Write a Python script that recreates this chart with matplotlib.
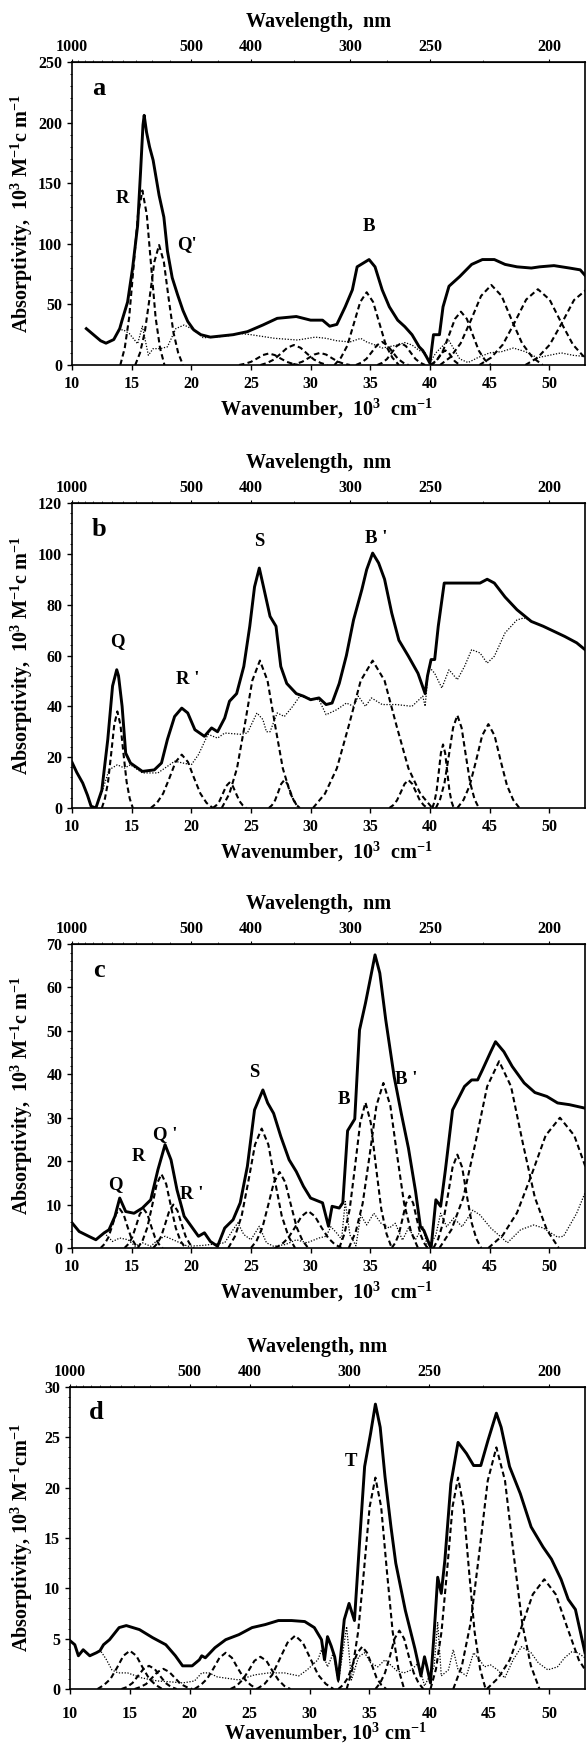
import numpy as np
import matplotlib.pyplot as plt
from matplotlib.ticker import MultipleLocator, AutoMinorLocator, FixedLocator

plt.rcParams['font.family'] = 'Liberation Serif'
plt.rcParams['font.weight'] = 'bold'
plt.rcParams['mathtext.fontset'] = 'custom'
plt.rcParams['mathtext.rm'] = 'Liberation Serif:bold'
plt.rcParams['mathtext.it'] = 'Liberation Serif:italic:bold'
plt.rcParams['mathtext.bf'] = 'Liberation Serif:bold'

# ---------------- panel a ----------------
a_x = [11.2, 11.8, 12.4, 12.85, 13.5, 14.0, 14.2, 14.66, 15.08, 15.5, 15.75, 15.95, 16.05,
       16.25, 16.5, 16.8, 17.3, 17.7, 18.0, 18.4, 18.85, 19.3, 19.7, 20.2, 20.8, 21.6, 23.5,
       24.7, 26.0, 27.2, 28.8, 30.0, 31.0, 31.6, 32.2, 32.9, 33.5, 33.9, 34.4, 34.9, 35.4,
       36.0, 36.6, 37.3, 37.9, 38.5, 39.1, 39.4, 39.7, 40.0, 40.3, 40.8, 41.1, 41.6, 42.5,
       43.5, 44.4, 45.4, 46.3, 47.3, 48.5, 49.2, 50.4, 51.7, 52.6, 53.0]
a_y = [30, 25, 20, 18, 21, 30, 37, 52, 80, 115, 160, 198, 206,
       192, 180, 169, 140, 122, 94, 72, 58, 45, 36, 29, 25, 23, 25,
       27.5, 33, 38.5, 40, 37, 37, 32, 33.5, 48, 62, 81, 84, 87, 81,
       62, 48, 37, 31.6, 25, 15, 12, 7, 1.5, 25, 25, 48, 65, 73,
       83, 87, 87, 83, 81, 80, 81, 82, 80, 78.5, 74]
a_dot_x = [13.9, 14.3, 14.8, 15.5, 15.9, 16.4, 16.8, 17.4, 18.0, 18.7, 19.4, 20.2, 21.0,
           22.0, 23.0, 24.1, 25.0, 27.0, 28.9, 30.4, 31.3, 32.2, 33.3, 34.2, 34.7, 35.4,
           36.0, 37.3, 37.9, 38.5, 39.1, 39.6, 40.0, 40.5, 41.3, 41.6, 42.5, 43.2, 44.0,
           45.0, 46.0, 47.0, 48.0, 49.0, 50.0, 51.0, 52.0, 53.0]
a_dot_y = [29, 29, 26, 17.5, 32, 8, 13.5, 13.5, 15, 30, 33, 29, 22.5,
           23, 24, 26, 25, 22, 20.6, 23, 22, 20, 19, 22, 19, 16.5,
           14, 16.5, 18.5, 16.5, 12, 10, 2, 10, 18, 20, 5, 2, 6,
           10, 11, 14, 11, 6, 8, 10, 8, 7]
a_bands = [
    ([14.05, 14.42, 14.79, 15.16, 15.53, 15.9, 16.27, 16.64, 17.01, 17.38, 17.75],
     [0, 14, 39, 81, 124, 144, 124, 81, 39, 14, 0]),
    ([15.3, 15.7, 16.1, 16.5, 16.9, 17.3, 17.7, 18.1, 18.5, 18.9, 19.3],
     [0, 10, 27, 55, 85, 99, 85, 55, 27, 10, 0]),
    ([24.0, 24.5, 25.0, 25.5, 26.0, 26.5, 27.0, 27.5, 28.0, 28.5, 29.0],
     [0, 1.0, 2.6, 5.3, 8.2, 9.5, 8.2, 5.3, 2.6, 1.0, 0]),
    ([25.8, 26.36, 26.92, 27.48, 28.04, 28.6, 29.16, 29.72, 30.28, 30.84, 31.4],
     [0, 1.7, 4.5, 9.2, 14.2, 16.5, 14.2, 9.2, 4.5, 1.7, 0]),
    ([28.3, 28.8, 29.3, 29.8, 30.3, 30.8, 31.3, 31.8, 32.3, 32.8, 33.3],
     [0, 1, 2.7, 5.6, 8.6, 10, 8.6, 5.6, 2.7, 1, 0]),
    ([32.0, 32.54, 33.08, 33.62, 34.16, 34.7, 35.24, 35.78, 36.32, 36.86, 37.4],
     [0, 6, 16, 34, 52, 60, 52, 34, 16, 6, 0]),
    ([33.8, 34.24, 34.68, 35.12, 35.56, 36.0, 36.44, 36.88, 37.32, 37.76, 38.2],
     [0, 1.9, 5.1, 10.6, 16.3, 19, 16.3, 10.6, 5.1, 1.9, 0]),
    ([35.6, 36.0, 36.4, 36.8, 37.2, 37.6, 38.0, 38.4, 38.8, 39.2, 39.6],
     [0, 1.8, 4.9, 10.1, 15.5, 18, 15.5, 10.1, 4.9, 1.8, 0]),
    ([40.0, 40.26, 40.52, 40.78, 41.04, 41.3, 41.56, 41.82, 42.08, 42.34, 42.6],
     [0, 1.2, 3.2, 6.7, 10.3, 12, 10.3, 6.7, 3.2, 1.2, 0]),
    ([40.1, 40.6, 41.1, 41.6, 42.1, 42.6, 43.1, 43.6, 44.1, 44.6, 45.1],
     [0, 4.3, 11.8, 24.6, 38, 44, 38, 24.6, 11.8, 4.3, 0]),
    ([40.85, 41.71, 42.57, 43.43, 44.29, 45.15, 46.01, 46.87, 47.73, 48.59, 49.45],
     [0, 6.4, 17.8, 36.8, 57, 66, 57, 36.8, 17.8, 6.4, 0]),
    ([44.15, 45.13, 46.11, 47.09, 48.07, 49.05, 50.03, 51.01, 51.99, 52.97, 53.95],
     [0, 6.1, 16.8, 34.9, 54, 62.5, 54, 34.9, 16.8, 6.1, 0]),
    ([48.0, 49.02, 50.04, 51.06, 52.08, 53.1, 54.12],
     [0, 6, 16.7, 34.6, 53.6, 62, 53.6]),
]

# ---------------- panel b ----------------
b_x = [10.0, 10.4, 10.9, 11.3, 11.6, 12.0, 12.5, 13.0, 13.4, 13.75, 13.9, 14.2, 14.5,
       14.9, 15.9, 16.9, 17.5, 18.0, 18.6, 19.2, 19.7, 20.3, 21.1, 21.7, 22.2, 22.8, 23.2,
       23.8, 24.4, 24.9, 25.3, 25.7, 26.1, 26.6, 27.1, 27.5, 28.0, 28.8, 29.4, 30.0, 30.7,
       31.3, 31.8, 32.4, 33.0, 33.6, 34.3, 34.7, 35.2, 35.7, 36.2, 36.8, 37.4, 38.2, 39.0,
       39.6, 39.8, 40.1, 40.4, 40.7, 41.2, 41.6, 44.2, 44.8, 45.4, 46.3, 47.3, 48.5, 49.5,
       50.4, 51.3, 52.3, 53.0]
b_y = [18, 14, 9.8, 5, 0.7, 0, 7, 27, 48, 54.4, 52, 40, 21.6,
       17.7, 14.4, 15, 17.7, 27, 36, 39.3, 37.4, 30.8, 28.2, 31.5, 30, 35.4, 42,
       45, 55.7, 71.5, 87, 94.4, 86, 75.4, 71.5, 55.7, 49, 45, 44, 42.6, 43.3,
       40.7, 41.3, 49, 60, 74, 86, 93.8, 100.3, 96.4, 90, 76.7, 66, 59.7, 53,
       45, 52, 58.4, 58.4, 71.5, 88.5, 88.5, 88.5, 90, 88.5, 83, 78, 73.4, 71.5,
       69.5, 67.5, 65, 62.3]
b_dot_x = [12.0, 12.5, 13.1, 13.8, 14.4, 14.9, 15.9, 17.2, 18.0, 18.6, 20.0, 20.6, 21.4,
           22.2, 22.8, 24.1, 24.7, 25.5, 26.0, 26.3, 26.6, 27.2, 27.8, 28.5, 29.1, 29.7,
           30.7, 31.3, 32.2, 33.0, 33.6, 34.0, 34.6, 35.1, 36.0, 37.2, 38.5, 39.4, 39.6,
           39.9, 40.4, 41.0, 41.6, 42.3, 42.9, 43.5, 44.2, 44.8, 45.4, 46.3, 47.3, 47.9,
           48.5, 49.5, 50.4, 51.3, 52.3, 53.0]
b_dot_y = [0, 6, 15, 17, 15.7, 17, 13.8, 13.8, 16.4, 18.4, 17, 21, 29,
           27.5, 29.5, 29, 29.5, 37.4, 34.8, 30, 30, 37.4, 36, 40, 44, 43.3,
           42.6, 36.7, 38.7, 41.3, 40, 44, 40, 43.3, 40.7, 40.7, 40, 44, 40,
           55.7, 53, 47.2, 54.4, 50.5, 55.7, 62.3, 61, 57, 59.7, 68.9, 74, 74.8,
           73.4, 71.5, 69.5, 67.5, 65, 62.3]
b_bands = [
    ([12.5, 12.76, 13.02, 13.28, 13.54, 13.8, 14.06, 14.32, 14.58, 14.84, 15.1],
     [0, 3.7, 10.2, 21.2, 32.7, 38, 32.7, 21.2, 10.2, 3.7, 0]),
    ([16.6, 17.12, 17.64, 18.16, 18.68, 19.2, 19.72, 20.24, 20.76, 21.28, 21.8],
     [0, 2, 5.7, 11.7, 18.1, 21, 18.1, 11.7, 5.7, 2, 0]),
    ([21.8, 22.08, 22.36, 22.64, 22.92, 23.2, 23.48, 23.76, 24.04, 24.32, 24.6],
     [0, 1, 2.7, 5.6, 8.6, 10, 8.6, 5.6, 2.7, 1, 0]),
    ([22.55, 23.19, 23.83, 24.47, 25.11, 25.75, 26.39, 27.03, 27.67, 28.31, 28.95],
     [0, 5.6, 15.6, 32.4, 50.1, 58, 50.1, 32.4, 15.6, 5.6, 0]),
    ([26.5, 26.76, 27.02, 27.28, 27.54, 27.8, 28.06, 28.32, 28.58, 28.84, 29.1],
     [0, 1.1, 3, 6.2, 9.5, 11, 9.5, 6.2, 3, 1.1, 0]),
    ([30.2, 31.2, 32.2, 33.2, 34.2, 35.2, 36.2, 37.2, 38.2, 39.2, 40.2],
     [0, 5.6, 15.6, 32.4, 50.1, 58, 50.1, 32.4, 15.6, 5.6, 0]),
    ([36.6, 36.92, 37.24, 37.56, 37.88, 38.2, 38.52, 38.84, 39.16, 39.48, 39.8],
     [0, 1.1, 3, 6.2, 9.5, 11, 9.5, 6.2, 3, 1.1, 0]),
    ([40.2, 40.38, 40.56, 40.74, 40.92, 41.1, 41.28, 41.46, 41.64, 41.82, 42.0],
     [0, 2.4, 6.7, 14, 21.6, 25, 21.6, 14, 6.7, 2.4, 0]),
    ([40.5, 40.86, 41.22, 41.58, 41.94, 42.3, 42.66, 43.02, 43.38, 43.74, 44.1],
     [0, 3.5, 9.8, 20.4, 31.5, 36.5, 31.5, 20.4, 9.8, 3.5, 0]),
    ([42.3, 42.82, 43.34, 43.86, 44.38, 44.9, 45.42, 45.94, 46.46, 46.98, 47.5],
     [0, 3.2, 8.9, 18.4, 28.5, 33, 28.5, 18.4, 8.9, 3.2, 0]),
]

# ---------------- panel c ----------------
c_x = [10.0, 10.6, 11.4, 12.0, 12.7, 13.1, 13.6, 14.0, 14.5, 15.2, 15.9, 16.6, 17.2,
       17.8, 18.3, 18.8, 19.4, 20.0, 20.6, 21.1, 21.6, 22.2, 22.8, 23.5, 24.1, 24.7, 25.3,
       26.0, 26.4, 26.9, 27.5, 28.2, 28.8, 29.4, 30.0, 31.0, 31.5, 31.8, 32.4, 32.7, 33.1,
       33.7, 34.1, 34.6, 35.1, 35.4, 35.8, 36.3, 37.0, 37.6, 38.2, 38.8, 39.2, 39.5, 39.8,
       40.1, 40.5, 40.9, 41.3, 41.9, 42.9, 43.5, 44.0, 44.4, 45.1, 45.5, 46.2, 46.9, 47.9,
       48.8, 49.8, 50.7, 51.7, 53.0]
c_y = [5.8, 3.8, 2.7, 1.9, 3.5, 4.2, 7.3, 11.5, 8.4, 8.0, 9.2, 11.1, 18.0,
       23.8, 20.3, 13.4, 7.3, 5.0, 2.7, 3.5, 1.5, 0.4, 4.6, 6.5, 10.4, 18.8, 31.8,
       36.4, 33.4, 31.0, 25.7, 20.3, 17.6, 14.2, 11.5, 10.4, 5.0, 9.6, 9.2, 10.4, 27.0,
       29.7, 50.2, 56.4, 63.3, 67.5, 63.3, 52.5, 39.5, 31.0, 23.0, 13.0, 5.0, 4.0, 1.9,
       0.0, 11.1, 9.6, 18.0, 31.8, 37.2, 38.7, 38.7, 41.0, 45.2, 47.5, 45.2, 41.8, 38.0,
       35.8, 34.9, 33.4, 33.0, 32.2]
c_dot_x = [12.7, 13.4, 14.0, 14.7, 15.3, 15.9, 16.6, 17.2, 17.8, 18.8, 19.7, 21.0, 22.8,
           23.5, 23.9, 24.4, 25.0, 25.7, 26.3, 26.9, 27.9, 28.8, 29.7, 30.7, 31.3, 31.7,
           32.2, 32.6, 32.9, 33.3, 33.8, 34.2, 34.7, 35.3, 35.9, 36.6, 37.1, 37.7, 38.2,
           38.8, 39.4, 39.8, 40.1, 40.5, 40.9, 41.4, 42.0, 42.7, 43.6, 44.2, 45.1, 46.5,
           47.6, 48.7, 49.5, 50.7, 51.2, 52.3, 53.0]
c_dot_y = [3.5, 1.5, 2.3, 1.9, 0.4, 1.2, 0.4, 1.9, 2.7, 1.5, 0.4, 0.6, 1.2,
           4.2, 5.8, 3.1, 1.9, 5.0, 1.2, 0.4, 0.8, 1.9, 1.2, 2.3, 2.7, 4.9,
           3.4, 2.0, 10.7, 3.0, 0.5, 7.6, 5.3, 8.0, 5.7, 4.6, 5.7, 1.8, 4.6,
           2.0, 4.9, 0.2, 1.0, 3.0, 8.0, 4.9, 6.9, 4.9, 8.7, 7.6, 4.6, 1.2,
           4.2, 5.3, 4.6, 2.5, 2.7, 8.0, 12.7]
c_bands = [
    ([12.4, 12.72, 13.04, 13.36, 13.68, 14.0, 14.32, 14.64, 14.96, 15.28, 15.6],
     [0, 0.9, 2.4, 5, 7.8, 9, 7.8, 5, 2.4, 0.9, 0]),
    ([14.4, 14.72, 15.04, 15.36, 15.68, 16.0, 16.32, 16.64, 16.96, 17.28, 17.6],
     [0, 0.9, 2.4, 5, 7.8, 9, 7.8, 5, 2.4, 0.9, 0]),
    ([15.5, 15.9, 16.3, 16.7, 17.1, 17.5, 17.9, 18.3, 18.7, 19.1, 19.5],
     [0, 1.6, 4.6, 9.5, 14.7, 17, 14.7, 9.5, 4.6, 1.6, 0]),
    ([16.8, 17.14, 17.48, 17.82, 18.16, 18.5, 18.84, 19.18, 19.52, 19.86, 20.2],
     [0, 1, 2.7, 5.6, 8.6, 10, 8.6, 5.6, 2.7, 1, 0]),
    ([23.1, 23.66, 24.22, 24.78, 25.34, 25.9, 26.46, 27.02, 27.58, 28.14, 28.7],
     [0, 2.7, 7.4, 15.3, 23.8, 27.5, 23.8, 15.3, 7.4, 2.7, 0]),
    ([25.0, 25.48, 25.96, 26.44, 26.92, 27.4, 27.88, 28.36, 28.84, 29.32, 29.8],
     [0, 1.7, 4.7, 9.8, 15.1, 17.5, 15.1, 9.8, 4.7, 1.7, 0]),
    ([27.0, 27.56, 28.12, 28.68, 29.24, 29.8, 30.36, 30.92, 31.48, 32.04, 32.6],
     [0, 0.8, 2.3, 4.7, 7.3, 8.5, 7.3, 4.7, 2.3, 0.8, 0]),
    ([32.4, 32.84, 33.28, 33.72, 34.16, 34.6, 35.04, 35.48, 35.92, 36.36, 36.8],
     [0, 3.3, 9, 18.7, 28.9, 33.5, 28.9, 18.7, 9, 3.3, 0]),
    ([33.2, 33.78, 34.36, 34.94, 35.52, 36.1, 36.68, 37.26, 37.84, 38.42, 39.0],
     [0, 3.7, 10.2, 21.2, 32.8, 38, 32.8, 21.2, 10.2, 3.7, 0]),
    ([36.8, 37.1, 37.4, 37.7, 38.0, 38.3, 38.6, 38.9, 39.2, 39.5, 39.8],
     [0, 1.2, 3.2, 6.7, 10.3, 12, 10.3, 6.7, 3.2, 1.2, 0]),
    ([40.3, 40.7, 41.1, 41.5, 41.9, 42.3, 42.7, 43.1, 43.5, 43.9, 44.3],
     [0, 2.1, 5.8, 12, 18.6, 21.5, 18.6, 12, 5.8, 2.1, 0]),
    ([40.8, 41.8, 42.8, 43.8, 44.8, 45.8, 46.8, 47.8, 48.8, 49.8, 50.8],
     [0, 4.2, 11.6, 24, 37.2, 43, 37.2, 24, 11.6, 4.2, 0]),
    ([44.9, 46.1, 47.3, 48.5, 49.7, 50.9, 52.1, 53.3],
     [0, 2.9, 8.1, 16.7, 25.9, 30, 25.9, 16.7]),
]

# ---------------- panel d ----------------
d_x = [10.0, 10.4, 10.7, 11.1, 11.65, 12.2, 12.5, 12.8, 13.3, 14.1, 14.7, 15.8, 16.9,
       18.0, 18.8, 19.4, 20.2, 20.8, 21.0, 21.3, 22.1, 23.0, 24.1, 25.2, 26.3, 27.4, 28.5,
       29.6, 30.4, 31.0, 31.25, 31.5, 31.8, 32.1, 32.4, 32.9, 33.3, 33.75, 34.2, 34.6, 35.1,
       35.5, 35.9, 36.3, 36.8, 37.2, 38.0, 38.8, 39.3, 39.6, 39.8, 40.1, 40.4, 40.7, 41.0,
       41.3, 41.8, 42.4, 43.1, 43.7, 44.3, 44.9, 45.6, 46.0, 46.7, 47.6, 48.5, 49.5, 50.2,
       51.0, 51.6, 52.2, 53.0]
d_y = [4.8, 4.4, 3.3, 3.9, 3.3, 3.6, 3.8, 4.4, 4.9, 6.1, 6.3, 5.9, 5.1,
       4.4, 3.3, 2.3, 2.3, 2.9, 3.3, 3.1, 4.1, 4.9, 5.4, 6.1, 6.4, 6.8, 6.8,
       6.7, 6.1, 4.9, 2.9, 5.2, 4.3, 3.2, 0.9, 6.9, 8.5, 6.8, 15.0, 22.1, 25.4,
       28.3, 26.0, 21.1, 16.1, 12.5, 7.8, 4.0, 1.3, 3.2, 2.2, 0.6, 5.5, 11.1, 9.5,
       12.8, 20.4, 24.5, 23.4, 22.2, 22.2, 24.7, 27.4, 26.0, 22.1, 19.4, 16.1, 14.1, 12.9,
       10.9, 8.9, 7.9, 3.6]
d_dot_x = [12.6, 13.0, 13.5, 14.0, 14.8, 16.0, 17.3, 18.5, 19.4, 20.4, 21.0, 21.6, 22.3,
           22.9, 24.1, 25.4, 26.6, 27.9, 29.1, 29.8, 30.7, 31.0, 31.5, 32.0, 32.4, 33.1,
           33.5, 34.1, 34.6, 35.1, 35.7, 36.3, 37.3, 37.9, 38.5, 39.1, 39.6, 40.4, 40.7,
           41.0, 41.6, 42.0, 42.4, 43.1, 43.7, 44.2, 44.6, 45.1, 45.7, 46.3, 47.0, 47.7,
           48.5, 49.1, 49.9, 50.7, 51.3, 51.9, 52.4, 53.0]
d_dot_y = [3.7, 3.0, 1.9, 1.6, 1.6, 1.1, 0.8, 0.7, 0.6, 0.8, 1.6, 1.6, 1.2,
           1.1, 0.9, 1.4, 1.6, 1.6, 1.3, 1.9, 2.9, 3.9, 2.2, 3.6, 0.6, 6.2,
           0.9, 3.2, 3.6, 2.6, 2.2, 2.9, 1.8, 1.6, 1.9, 2.6, 0.3, 2.2, 6.6,
           1.3, 1.9, 3.9, 1.9, 1.3, 3.6, 2.9, 2.2, 2.4, 1.9, 1.1, 2.9, 4.2,
           3.6, 2.6, 1.9, 2.2, 3.1, 3.7, 3.6, 3.1]
d_bands = [
    ([12.3, 12.84, 13.38, 13.92, 14.46, 15.0, 15.54, 16.08, 16.62, 17.16, 17.7],
     [0, 0.4, 1.0, 2.1, 3.3, 3.8, 3.3, 2.1, 1.0, 0.4, 0]),
    ([14.3, 14.76, 15.22, 15.68, 16.14, 16.6, 17.06, 17.52, 17.98, 18.44, 18.9],
     [0, 0.2, 0.6, 1.3, 2.0, 2.3, 2.0, 1.3, 0.6, 0.2, 0]),
    ([15.4, 15.88, 16.36, 16.84, 17.32, 17.8, 18.28, 18.76, 19.24, 19.72, 20.2],
     [0, 0.2, 0.5, 1.1, 1.7, 2.0, 1.7, 1.1, 0.5, 0.2, 0]),
    ([20.4, 20.92, 21.44, 21.96, 22.48, 23.0, 23.52, 24.04, 24.56, 25.08, 25.6],
     [0, 0.4, 1.0, 2.0, 3.1, 3.6, 3.1, 2.0, 1.0, 0.4, 0]),
    ([23.4, 23.9, 24.4, 24.9, 25.4, 25.9, 26.4, 26.9, 27.4, 27.9, 28.4],
     [0, 0.3, 0.9, 1.8, 2.8, 3.2, 2.8, 1.8, 0.9, 0.3, 0]),
    ([25.6, 26.24, 26.88, 27.52, 28.16, 28.8, 29.44, 30.08, 30.72, 31.36, 32.0],
     [0, 0.5, 1.4, 3.0, 4.6, 5.3, 4.6, 3.0, 1.4, 0.5, 0]),
    ([32.4, 32.8, 33.2, 33.6, 34.0, 34.4, 34.8, 35.2, 35.6, 36.0, 36.4],
     [0, 0.4, 1.1, 2.4, 3.6, 4.2, 3.6, 2.4, 1.1, 0.4, 0]),
    ([33.1, 33.58, 34.06, 34.54, 35.02, 35.5, 35.98, 36.46, 36.94, 37.42, 37.9],
     [0, 2.0, 5.7, 11.7, 18.1, 21, 18.1, 11.7, 5.7, 2.0, 0]),
    ([35.5, 35.9, 36.3, 36.7, 37.1, 37.5, 37.9, 38.3, 38.7, 39.1, 39.5],
     [0, 0.6, 1.6, 3.2, 5.0, 5.8, 5.0, 3.2, 1.6, 0.6, 0]),
    ([40.1, 40.56, 41.02, 41.48, 41.94, 42.4, 42.86, 43.32, 43.78, 44.24, 44.7],
     [0, 2.0, 5.7, 11.7, 18.1, 21, 18.1, 11.7, 5.7, 2.0, 0]),
    ([42.0, 42.72, 43.44, 44.16, 44.88, 45.6, 46.32, 47.04, 47.76, 48.48, 49.2],
     [0, 2.3, 6.5, 13.4, 20.7, 24, 20.7, 13.4, 6.5, 2.3, 0]),
    ([44.8, 45.76, 46.72, 47.68, 48.64, 49.6, 50.56, 51.52, 52.48, 53.44],
     [0, 1.1, 2.9, 6.1, 9.4, 10.9, 9.4, 6.1, 2.9, 1.1]),
]

# peak labels: (text, wavenumber, absorptivity)
a_tags = [('R', 14.2, 137), ("Q'", 19.6, 99), ('B', 34.9, 114)]
b_tags = [('Q', 13.8, 65.5), ("R '", 19.7, 50.5), ('S', 25.7, 105), ("B '", 35.5, 106)]
c_tags = [('Q', 13.6, 14.6), ('R', 15.6, 21.1), ("Q '", 17.8, 26.1), ("R '", 20.0, 12.3),
          ('S', 25.3, 40.3), ('B', 32.8, 34.1), ("B '", 38.0, 38.7)]
d_tags = [('T', 33.5, 22.6)]

nm_ticks = [1000, 500, 400, 300, 250, 200]
nm_minor = [950, 900, 850, 800, 750, 700, 650, 600, 550, 450, 350, 275, 225]

W, H = 587, 1744
fig = plt.figure(figsize=(W / 100, H / 100), dpi=100)

def wn_to_nm(k):
    k = np.asarray(k, dtype=float)
    out = np.full_like(k, 1e9)
    np.divide(1e4, k, out=out, where=k > 1e-6)
    return out

ylab_abc = r'Absorptivity,  10$^{3}$ M$^{-1}$c m$^{-1}$'
ylab_d = r'Absorptivity, 10$^{3}$ M$^{-1}$cm$^{-1}$'
xlab_abc = r'Wavenumber,  10$^{3}$  cm$^{-1}$'
xlab_d = r'Wavenumber, 10$^{3}$ cm$^{-1}$'

panels = [
    # letter, box (left, top, right, bottom px), ymax, ystep, data..., labels, pads
    ('a', (72, 62, 585, 365), 250, 50, a_x, a_y, a_dot_x, a_dot_y, a_bands, a_tags,
     (12.25, 228), ylab_abc, xlab_abc, 'Wavelength,  nm', 4.5, 44),
    ('b', (72, 503, 585, 808), 120, 20, b_x, b_y, b_dot_x, b_dot_y, b_bands, b_tags,
     (12.25, 109.5), ylab_abc, xlab_abc, 'Wavelength,  nm', 4.5, 44),
    ('c', (72, 944, 585, 1248), 70, 10, c_x, c_y, c_dot_x, c_dot_y, c_bands, c_tags,
     (12.25, 64), ylab_abc, xlab_abc, 'Wavelength,  nm', 4.5, 44),
    ('d', (70, 1387, 585, 1689), 30, 5, d_x, d_y, d_dot_x, d_dot_y, d_bands, d_tags,
     (12.2, 27.5), ylab_d, xlab_d, 'Wavelength, nm', 9, 44),
]

for (letter, box, ymax, ystep, sx, sy, dx, dy, bands, tags, lpos,
     ylab, xlab, toplab, xpad, xlab_off) in panels:
    left, top, right, bottom = box
    ax = fig.add_axes([left / W, 1 - bottom / H, (right - left) / W, (bottom - top) / H])

    # fitted bands (bold dashed), residual (dotted), measured (solid)
    for bx, by in bands:
        ax.plot(bx, by, color='black', lw=1.5, ls=(0, (2.6, 1.6)))
    ax.plot(dx, dy, color='black', lw=0.9, ls=(0, (1, 1.3)))
    ax.plot(sx, sy, color='black', lw=2.1, solid_joinstyle='round')

    ax.set_xlim(10, 53)
    ax.set_ylim(0, ymax)
    ax.xaxis.set_major_locator(MultipleLocator(5))
    ax.yaxis.set_major_locator(MultipleLocator(ystep))
    ax.yaxis.set_minor_locator(AutoMinorLocator(5))
    ax.tick_params(axis='both', which='major', direction='out', length=3.5,
                   width=1.0, labelsize=11.5)
    ax.tick_params(axis='x', pad=xpad)
    ax.tick_params(axis='y', pad=3.5)
    ax.tick_params(axis='y', which='minor', direction='out', length=1.8, width=0.6)
    for sp in ax.spines.values():
        sp.set_linewidth(1.2)

    sec = ax.secondary_xaxis('top', functions=(wn_to_nm, wn_to_nm))
    sec.set_xticks(nm_ticks)
    sec.set_xticklabels([str(t) for t in nm_ticks])
    sec.xaxis.set_minor_locator(FixedLocator(nm_minor))
    sec.tick_params(which='major', direction='out', length=2.5, width=0.8,
                    labelsize=11.5, pad=2.5)
    sec.tick_params(which='minor', direction='out', length=1.5, width=0.5)

    ax.text(lpos[0], lpos[1], letter, fontsize=19, fontweight='bold', ha='center', va='center')
    for t, tx, ty in tags:
        ax.text(tx, ty, t, fontsize=13.5, fontweight='bold', ha='center', va='center')

    mid_x = (left + right) / 2
    fig.text((mid_x - 2) / W, 1 - (bottom + xlab_off) / H, xlab, fontsize=14.5,
             fontweight='bold', ha='center', va='center')
    fig.text((mid_x - 10) / W, 1 - (top - 40) / H, toplab, fontsize=14.5,
             fontweight='bold', ha='center', va='center')
    fig.text(22 / W, 1 - ((top + bottom) / 2) / H, ylab, fontsize=14.5,
             fontweight='bold', ha='center', va='center', rotation=90)

fig.savefig('out.png', dpi=100, facecolor='white')
